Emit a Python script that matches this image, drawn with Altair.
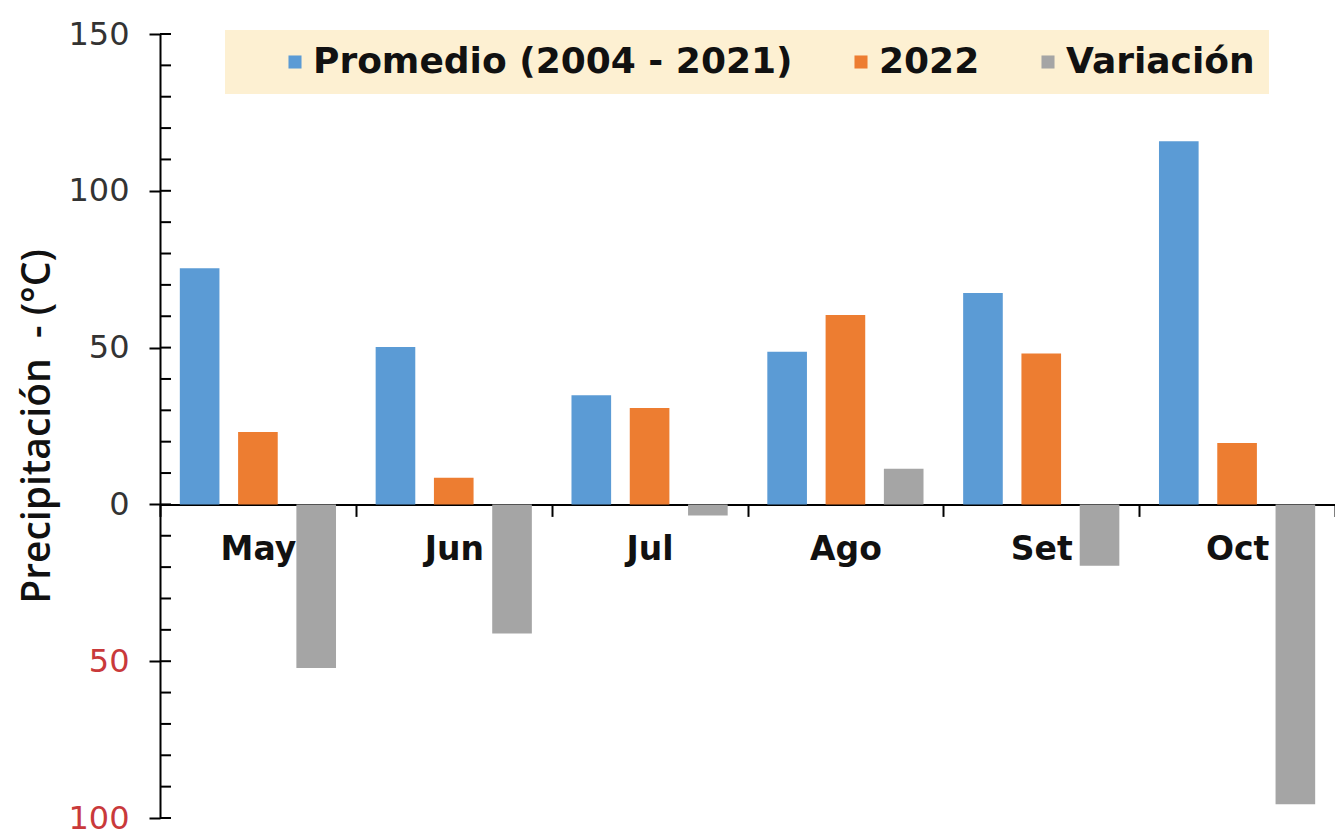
import altair as alt
import pandas as pd

months = ["May", "Jun", "Jul", "Ago", "Set", "Oct"]
series_names = ["Promedio (2004 - 2021)", "2022", "Variación"]
promedio = [75.3, 50.2, 34.8, 48.7, 67.4, 115.8]
anio_2022 = [23.1, 8.5, 30.7, 60.4, 48.1, 19.6]
variacion = [-52.2, -41.2, -3.5, 11.4, -19.6, -95.6]
series_colors = ["#5b9bd5", "#ed7d31", "#a5a5a5"]
y_major_ticks = [-100, -50, 0, 50, 100, 150]
y_minor_ticks = [-100, -90, -80, -70, -60, -50, -40, -30, -20, -10, 0,
                 10, 20, 30, 40, 50, 60, 70, 80, 90, 100, 110, 120, 130, 140, 150]

rows = []
for name, vals in zip(series_names, [promedio, anio_2022, variacion]):
    for m, v in zip(months, vals):
        rows.append({"mes": m, "serie": name, "valor": v})
df = pd.DataFrame(rows)
ticks_df = pd.DataFrame({"v": y_minor_ticks})

yscale = alt.Scale(domain=[-100, 150], nice=False, zero=True)

PLOT_H = 784
ZERO_FROM_BOTTOM = PLOT_H * 100 / 250

bars = alt.Chart(df).mark_bar().encode(
    x=alt.X("mes:N", sort=months, title=None,
            scale=alt.Scale(paddingInner=0, paddingOuter=0),
            axis=alt.Axis(orient="bottom", offset=-ZERO_FROM_BOTTOM, tickBand="extent",
                          domainColor="#000000", domainWidth=2,
                          tickColor="#000000", tickWidth=2, tickSize=12,
                          labelFont="DejaVu Sans", labelFontSize=33,
                          labelFontWeight="bold", labelColor="#111111",
                          labelPadding=17, labelAngle=0, grid=False)),
    xOffset=alt.XOffset("serie:N", sort=series_names,
                        scale=alt.Scale(paddingInner=0.32, paddingOuter=0.34)),
    y=alt.Y("valor:Q", scale=yscale, title="Precipitación\u00a0\u00a0-\u00a0(°C)",
            axis=alt.Axis(values=y_major_ticks, labelExpr="abs(datum.value)",
                          labelColor={"condition": {"test": "datum.value < 0", "value": "#c9393b"},
                                      "value": "#333333"},
                          labelFont="DejaVu Sans", labelFontSize=32,
                          labelPadding=20, tickSize=11, tickWidth=2,
                          tickColor="#000000", domainColor="#000000", domainWidth=2,
                          grid=False, titleFont="Open Sans", titleFontSize=39,
                          titleFontWeight=600, titleColor="#111111",
                          titlePadding=10)),
    color=alt.Color("serie:N", sort=series_names,
                    scale=alt.Scale(domain=series_names, range=series_colors),
                    legend=alt.Legend(orient="none", legendX=65, legendY=-4,
                                      direction="horizontal", title=None,
                                      fillColor="#fdf0d2", padding=14,
                                      labelFont="DejaVu Sans", labelFontSize=36,
                                      labelFontWeight="bold", labelColor="#111111",
                                      symbolType="square", symbolSize=170,
                                      symbolStrokeWidth=0, columnPadding=12,
                                      labelOffset=0, symbolOffset=38, labelLimit=0)),
)

minor = alt.Chart(ticks_df).mark_rule(color="#000000", strokeWidth=2).encode(
    y=alt.Y("v:Q", scale=yscale),
    x=alt.value(0),
    x2=alt.value(11),
)

chart = alt.layer(bars, minor).properties(
    width=1175, height=PLOT_H,
    autosize=alt.AutoSizeParams(type="none"),
    padding={"left": 152, "top": 26, "right": 0, "bottom": 18},
).configure_view(stroke=None)

chart.save("out.html", embed_options={"renderer": "svg", "actions": False})
